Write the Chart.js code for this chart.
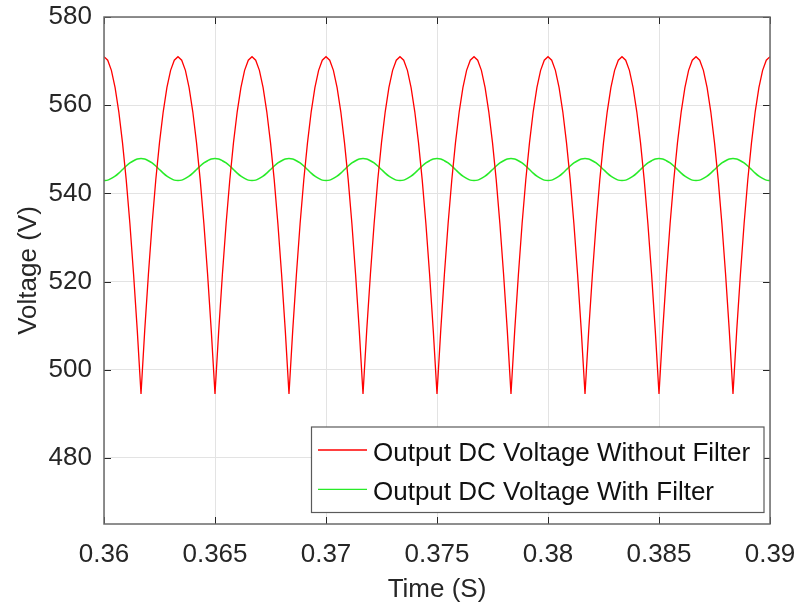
<!DOCTYPE html>
<html>
<head>
<meta charset="utf-8">
<script src="https://cdn.jsdelivr.net/npm/chart.js@4.4.0/dist/chart.umd.min.js"></script>
<style>
  html, body { margin: 0; padding: 0; background: #fff; }
  #myChart { display: block; }
</style>
</head>
<body>
<canvas id="myChart" width="799" height="605"></canvas>
<script>
// sample times (s)
var timeS = [
  0.360,0.360167,0.360333,0.3605,0.360667,0.360833,
  0.361,0.361167,0.361333,0.3615,0.361667,0.361833,
  0.362,0.362167,0.362333,0.3625,0.362667,0.362833,
  0.363,0.363167,0.363333,0.3635,0.363667,0.363833,
  0.364,0.364167,0.364333,0.3645,0.364667,0.364833,
  0.365,0.365167,0.365333,0.3655,0.365667,0.365833,
  0.366,0.366167,0.366333,0.3665,0.366667,0.366833,
  0.367,0.367167,0.367333,0.3675,0.367667,0.367833,
  0.368,0.368167,0.368333,0.3685,0.368667,0.368833,
  0.369,0.369167,0.369333,0.3695,0.369667,0.369833,
  0.370,0.370167,0.370333,0.3705,0.370667,0.370833,
  0.371,0.371167,0.371333,0.3715,0.371667,0.371833,
  0.372,0.372167,0.372333,0.3725,0.372667,0.372833,
  0.373,0.373167,0.373333,0.3735,0.373667,0.373833,
  0.374,0.374167,0.374333,0.3745,0.374667,0.374833,
  0.375,0.375167,0.375333,0.3755,0.375667,0.375833,
  0.376,0.376167,0.376333,0.3765,0.376667,0.376833,
  0.377,0.377167,0.377333,0.3775,0.377667,0.377833,
  0.378,0.378167,0.378333,0.3785,0.378667,0.378833,
  0.379,0.379167,0.379333,0.3795,0.379667,0.379833,
  0.380,0.380167,0.380333,0.3805,0.380667,0.380833,
  0.381,0.381167,0.381333,0.3815,0.381667,0.381833,
  0.382,0.382167,0.382333,0.3825,0.382667,0.382833,
  0.383,0.383167,0.383333,0.3835,0.383667,0.383833,
  0.384,0.384167,0.384333,0.3845,0.384667,0.384833,
  0.385,0.385167,0.385333,0.3855,0.385667,0.385833,
  0.386,0.386167,0.386333,0.3865,0.386667,0.386833,
  0.387,0.387167,0.387333,0.3875,0.387667,0.387833,
  0.388,0.388167,0.388333,0.3885,0.388667,0.388833,
  0.389,0.389167,0.389333,0.3895,0.389667,0.389833,
  0.390
];

// Output DC voltage without filter (V)
var withoutFilter = [
  571.0,570.2,567.9,564.0,558.5,551.5,543.1,533.1,521.6,508.8,494.5,508.8,521.6,533.1,543.1,551.5,558.5,564.0,567.9,570.2,
  571.0,570.2,567.9,564.0,558.5,551.5,543.1,533.1,521.6,508.8,494.5,508.8,521.6,533.1,543.1,551.5,558.5,564.0,567.9,570.2,
  571.0,570.2,567.9,564.0,558.5,551.5,543.1,533.1,521.6,508.8,494.5,508.8,521.6,533.1,543.1,551.5,558.5,564.0,567.9,570.2,
  571.0,570.2,567.9,564.0,558.5,551.5,543.1,533.1,521.6,508.8,494.5,508.8,521.6,533.1,543.1,551.5,558.5,564.0,567.9,570.2,
  571.0,570.2,567.9,564.0,558.5,551.5,543.1,533.1,521.6,508.8,494.5,508.8,521.6,533.1,543.1,551.5,558.5,564.0,567.9,570.2,
  571.0,570.2,567.9,564.0,558.5,551.5,543.1,533.1,521.6,508.8,494.5,508.8,521.6,533.1,543.1,551.5,558.5,564.0,567.9,570.2,
  571.0,570.2,567.9,564.0,558.5,551.5,543.1,533.1,521.6,508.8,494.5,508.8,521.6,533.1,543.1,551.5,558.5,564.0,567.9,570.2,
  571.0,570.2,567.9,564.0,558.5,551.5,543.1,533.1,521.6,508.8,494.5,508.8,521.6,533.1,543.1,551.5,558.5,564.0,567.9,570.2,
  571.0,570.2,567.9,564.0,558.5,551.5,543.1,533.1,521.6,508.8,494.5,508.8,521.6,533.1,543.1,551.5,558.5,564.0,567.9,570.2,
  571.0
];

// Output DC voltage with filter (V)
var withFilter = [
  542.9,543.0,543.4,543.9,544.6,545.4,546.2,546.9,547.4,547.8,547.9,547.8,547.4,546.9,546.2,545.4,544.6,543.9,543.4,543.0,
  542.9,543.0,543.4,543.9,544.6,545.4,546.2,546.9,547.4,547.8,547.9,547.8,547.4,546.9,546.2,545.4,544.6,543.9,543.4,543.0,
  542.9,543.0,543.4,543.9,544.6,545.4,546.2,546.9,547.4,547.8,547.9,547.8,547.4,546.9,546.2,545.4,544.6,543.9,543.4,543.0,
  542.9,543.0,543.4,543.9,544.6,545.4,546.2,546.9,547.4,547.8,547.9,547.8,547.4,546.9,546.2,545.4,544.6,543.9,543.4,543.0,
  542.9,543.0,543.4,543.9,544.6,545.4,546.2,546.9,547.4,547.8,547.9,547.8,547.4,546.9,546.2,545.4,544.6,543.9,543.4,543.0,
  542.9,543.0,543.4,543.9,544.6,545.4,546.2,546.9,547.4,547.8,547.9,547.8,547.4,546.9,546.2,545.4,544.6,543.9,543.4,543.0,
  542.9,543.0,543.4,543.9,544.6,545.4,546.2,546.9,547.4,547.8,547.9,547.8,547.4,546.9,546.2,545.4,544.6,543.9,543.4,543.0,
  542.9,543.0,543.4,543.9,544.6,545.4,546.2,546.9,547.4,547.8,547.9,547.8,547.4,546.9,546.2,545.4,544.6,543.9,543.4,543.0,
  542.9,543.0,543.4,543.9,544.6,545.4,546.2,546.9,547.4,547.8,547.9,547.8,547.4,546.9,546.2,545.4,544.6,543.9,543.4,543.0,
  542.9
];

var xTicks = [0.36, 0.365, 0.37, 0.375, 0.38, 0.385, 0.39];
var xTickLabels = ['0.36', '0.365', '0.37', '0.375', '0.38', '0.385', '0.39'];
var yTicks = [480, 500, 520, 540, 560, 580];
var seriesNames = ['Output DC Voltage Without Filter', 'Output DC Voltage With Filter'];
var seriesColors = ['rgb(255,0,0)', 'rgb(40,235,40)'];

var FONT = "'Liberation Sans', Arial, Helvetica, sans-serif";
var TEXT = '#262626';

function toPoints(ys) {
  return ys.map(function (v, i) { return { x: timeS[i], y: v }; });
}

// box, inward ticks and legend drawn the matlab way
var matlabBox = {
  id: 'matlabBox',
  afterDatasetsDraw: function (chart) {
    var ctx = chart.ctx;
    var a = chart.chartArea;
    var xs = chart.scales.x, ys = chart.scales.y;
    var tl = 7;
    ctx.save();
    ctx.strokeStyle = '#262626';
    ctx.lineWidth = 1;
    ctx.beginPath();
    xTicks.forEach(function (t) {
      var px = Math.round(xs.getPixelForValue(t)) + 0.5;
      ctx.moveTo(px, a.bottom); ctx.lineTo(px, a.bottom - tl);
      ctx.moveTo(px, a.top); ctx.lineTo(px, a.top + tl);
    });
    yTicks.forEach(function (t) {
      var py = Math.round(ys.getPixelForValue(t)) + 0.5;
      ctx.moveTo(a.left, py); ctx.lineTo(a.left + tl, py);
      ctx.moveTo(a.right, py); ctx.lineTo(a.right - tl, py);
    });
    ctx.stroke();

    ctx.strokeStyle = '#6a6a6a';
    ctx.lineWidth = 1.5;
    ctx.strokeRect(a.left, a.top, a.right - a.left, a.bottom - a.top);

    // legend
    var lx = 311.5, ly = 427, lw = 452.5, lh = 85.5;
    ctx.fillStyle = '#fff';
    ctx.fillRect(lx, ly, lw, lh);
    ctx.strokeStyle = '#5a5a5a';
    ctx.lineWidth = 1.2;
    ctx.strokeRect(lx, ly, lw, lh);
    ctx.font = '26px ' + FONT;
    ctx.textBaseline = 'alphabetic';
    ctx.textAlign = 'left';
    chart.data.datasets.forEach(function (ds, i) {
      var rowY = 450 + i * 39.3;
      ctx.strokeStyle = ds.borderColor;
      ctx.lineWidth = 1.3;
      ctx.beginPath();
      ctx.moveTo(318, rowY); ctx.lineTo(367, rowY);
      ctx.stroke();
      ctx.fillStyle = '#111';
      ctx.fillText(ds.label, 373, rowY + 11);
    });
    ctx.restore();
  }
};

var ctx = document.getElementById('myChart').getContext('2d');
var myChart = new Chart(ctx, {
  type: 'line',
  data: {
    datasets: [
      {
        label: seriesNames[0],
        data: toPoints(withoutFilter),
        borderColor: seriesColors[0],
        backgroundColor: seriesColors[0],
        borderWidth: 1.3,
        pointRadius: 0,
        tension: 0,
        fill: false
      },
      {
        label: seriesNames[1],
        data: toPoints(withFilter),
        borderColor: seriesColors[1],
        backgroundColor: seriesColors[1],
        borderWidth: 1.5,
        pointRadius: 0,
        tension: 0.3,
        fill: false
      }
    ]
  },
  options: {
    responsive: false,
    animation: false,
    devicePixelRatio: 1,
    layout: { padding: { top: 17, right: 29, left: 0, bottom: 0 } },
    plugins: {
      legend: { display: false },
      tooltip: { enabled: false }
    },
    scales: {
      x: {
        type: 'linear',
        min: 0.36,
        max: 0.39,
        afterBuildTicks: function (scale) {
          scale.ticks = xTicks.map(function (v) { return { value: v }; });
        },
        afterFit: function (scale) {
          scale.height = 81;
          scale.paddingLeft = 0;
          scale.paddingRight = 0;
        },
        grid: { color: '#e3e3e3', lineWidth: 1, drawTicks: false },
        border: { display: false },
        ticks: {
          autoSkip: false,
          maxRotation: 0,
          padding: 15,
          color: TEXT,
          font: { family: FONT, size: 26 },
          callback: function (value, index) { return xTickLabels[index]; }
        },
        title: {
          display: true,
          text: 'Time (S)',
          color: TEXT,
          font: { family: FONT, size: 26, lineHeight: 1.2 },
          padding: { top: 0, bottom: 0 }
        }
      },
      y: {
        min: 465,
        max: 580,
        afterBuildTicks: function (scale) {
          scale.ticks = yTicks.map(function (v) { return { value: v }; });
        },
        afterFit: function (scale) {
          scale.width = 104;
          scale.paddingTop = 0;
          scale.paddingBottom = 0;
        },
        grid: { color: '#e3e3e3', lineWidth: 1, drawTicks: false },
        border: { display: false },
        ticks: {
          padding: 12,
          color: TEXT,
          font: { family: FONT, size: 26 },
          callback: function (value) { return String(value); }
        },
        title: {
          display: true,
          text: 'Voltage (V)',
          color: TEXT,
          font: { family: FONT, size: 26, lineHeight: 1.2 },
          padding: { top: 13, bottom: 0 }
        }
      }
    }
  },
  plugins: [matlabBox]
});
</script>
</body>
</html>
